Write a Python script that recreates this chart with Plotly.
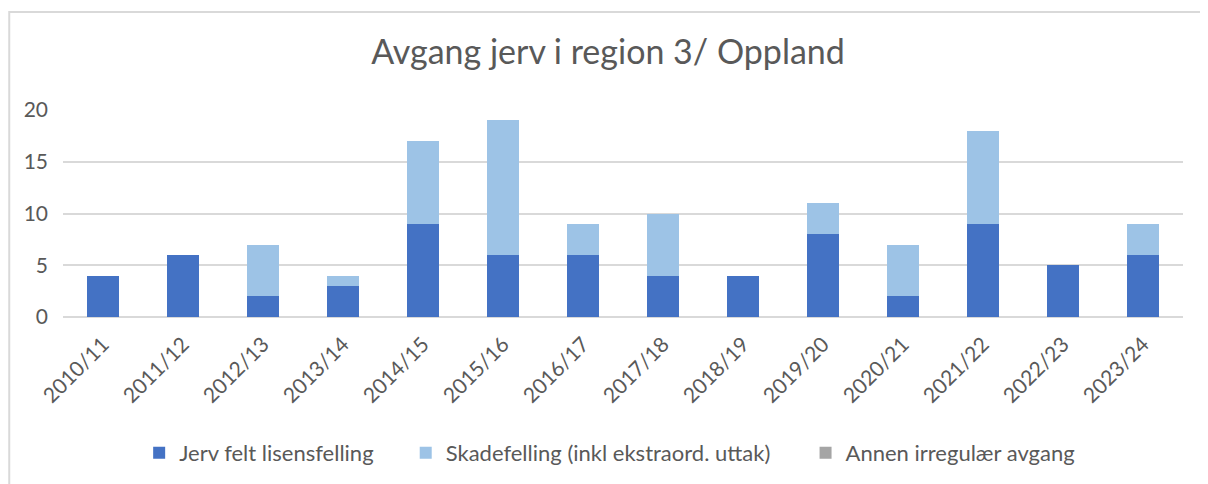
import plotly.graph_objects as go

# -------------------------
# DATA
# -------------------------
sesonger = ["2010/11", "2011/12", "2012/13", "2013/14", "2014/15", "2015/16", "2016/17",
            "2017/18", "2018/19", "2019/20", "2020/21", "2021/22", "2022/23", "2023/24"]
lisensfelling = [4, 6, 2, 3, 9, 6, 6, 4, 4, 8, 2, 9, 5, 6]
skadefelling = [0, 0, 5, 1, 8, 13, 3, 6, 0, 3, 5, 9, 0, 3]
annen = [0, 0, 0, 0, 0, 0, 0, 0, 0, 0, 0, 0, 0, 0]

FONT = "Lato, Open Sans, sans-serif"
GREY_TXT = "#595959"

fig = go.Figure()
fig.add_trace(go.Bar(x=sesonger, y=lisensfelling, name="Jerv felt lisensfelling",
                     marker=dict(color="#4472C4", line=dict(width=0)), legend="legend"))
fig.add_trace(go.Bar(x=sesonger, y=skadefelling, name="Skadefelling (inkl ekstraord. uttak)",
                     marker=dict(color="#9DC3E6", line=dict(width=0)), legend="legend2"))
fig.add_trace(go.Bar(x=sesonger, y=annen, name="Annen irregulær avgang",
                     marker=dict(color="#A5A5A5", line=dict(width=0)), legend="legend3"))

# one legend per series so the entries can be spaced like the original
leg = dict(orientation="h", xanchor="left", y=-0.649, yanchor="middle",
           font=dict(size=22, color=GREY_TXT), bgcolor="rgba(0,0,0,0)")

# page has an 8px body margin, so the figure is sized 8px smaller
fig.update_layout(
    barmode="stack",
    bargap=0.6,
    width=1200,
    height=476,
    paper_bgcolor="white",
    plot_bgcolor="white",
    font=dict(family=FONT, color=GREY_TXT, size=21),
    title=dict(text="Avgang jerv i region 3/ Oppland", x=0.5, xanchor="center",
               y=0.9076, yanchor="middle", font=dict(size=34, color=GREY_TXT)),
    margin=dict(l=55, r=25, t=102, b=166),
    showlegend=True,
    legend=dict(leg, x=0.068),
    legend2=dict(leg, x=0.306),
    legend3=dict(leg, x=0.663),
    shapes=[dict(type="rect", xref="paper", yref="paper",
                 x0=-0.048, x1=1.1, y0=-1.0, y1=1.474,
                 line=dict(color="#D9D9D9", width=2), fillcolor="rgba(0,0,0,0)")],
)
fig.update_xaxes(tickangle=-45, showgrid=False, showline=False, ticks="",
                 ticklabelstandoff=10, tickfont=dict(size=21, color=GREY_TXT))
fig.update_yaxes(range=[0, 20], dtick=5, showgrid=True, gridcolor="#D9D9D9", gridwidth=1.5,
                 zeroline=True, zerolinecolor="#D9D9D9", zerolinewidth=2,
                 showline=False, ticks="", ticklabelstandoff=14,
                 tickfont=dict(size=21, color=GREY_TXT))

fig.write_html("out.html")
